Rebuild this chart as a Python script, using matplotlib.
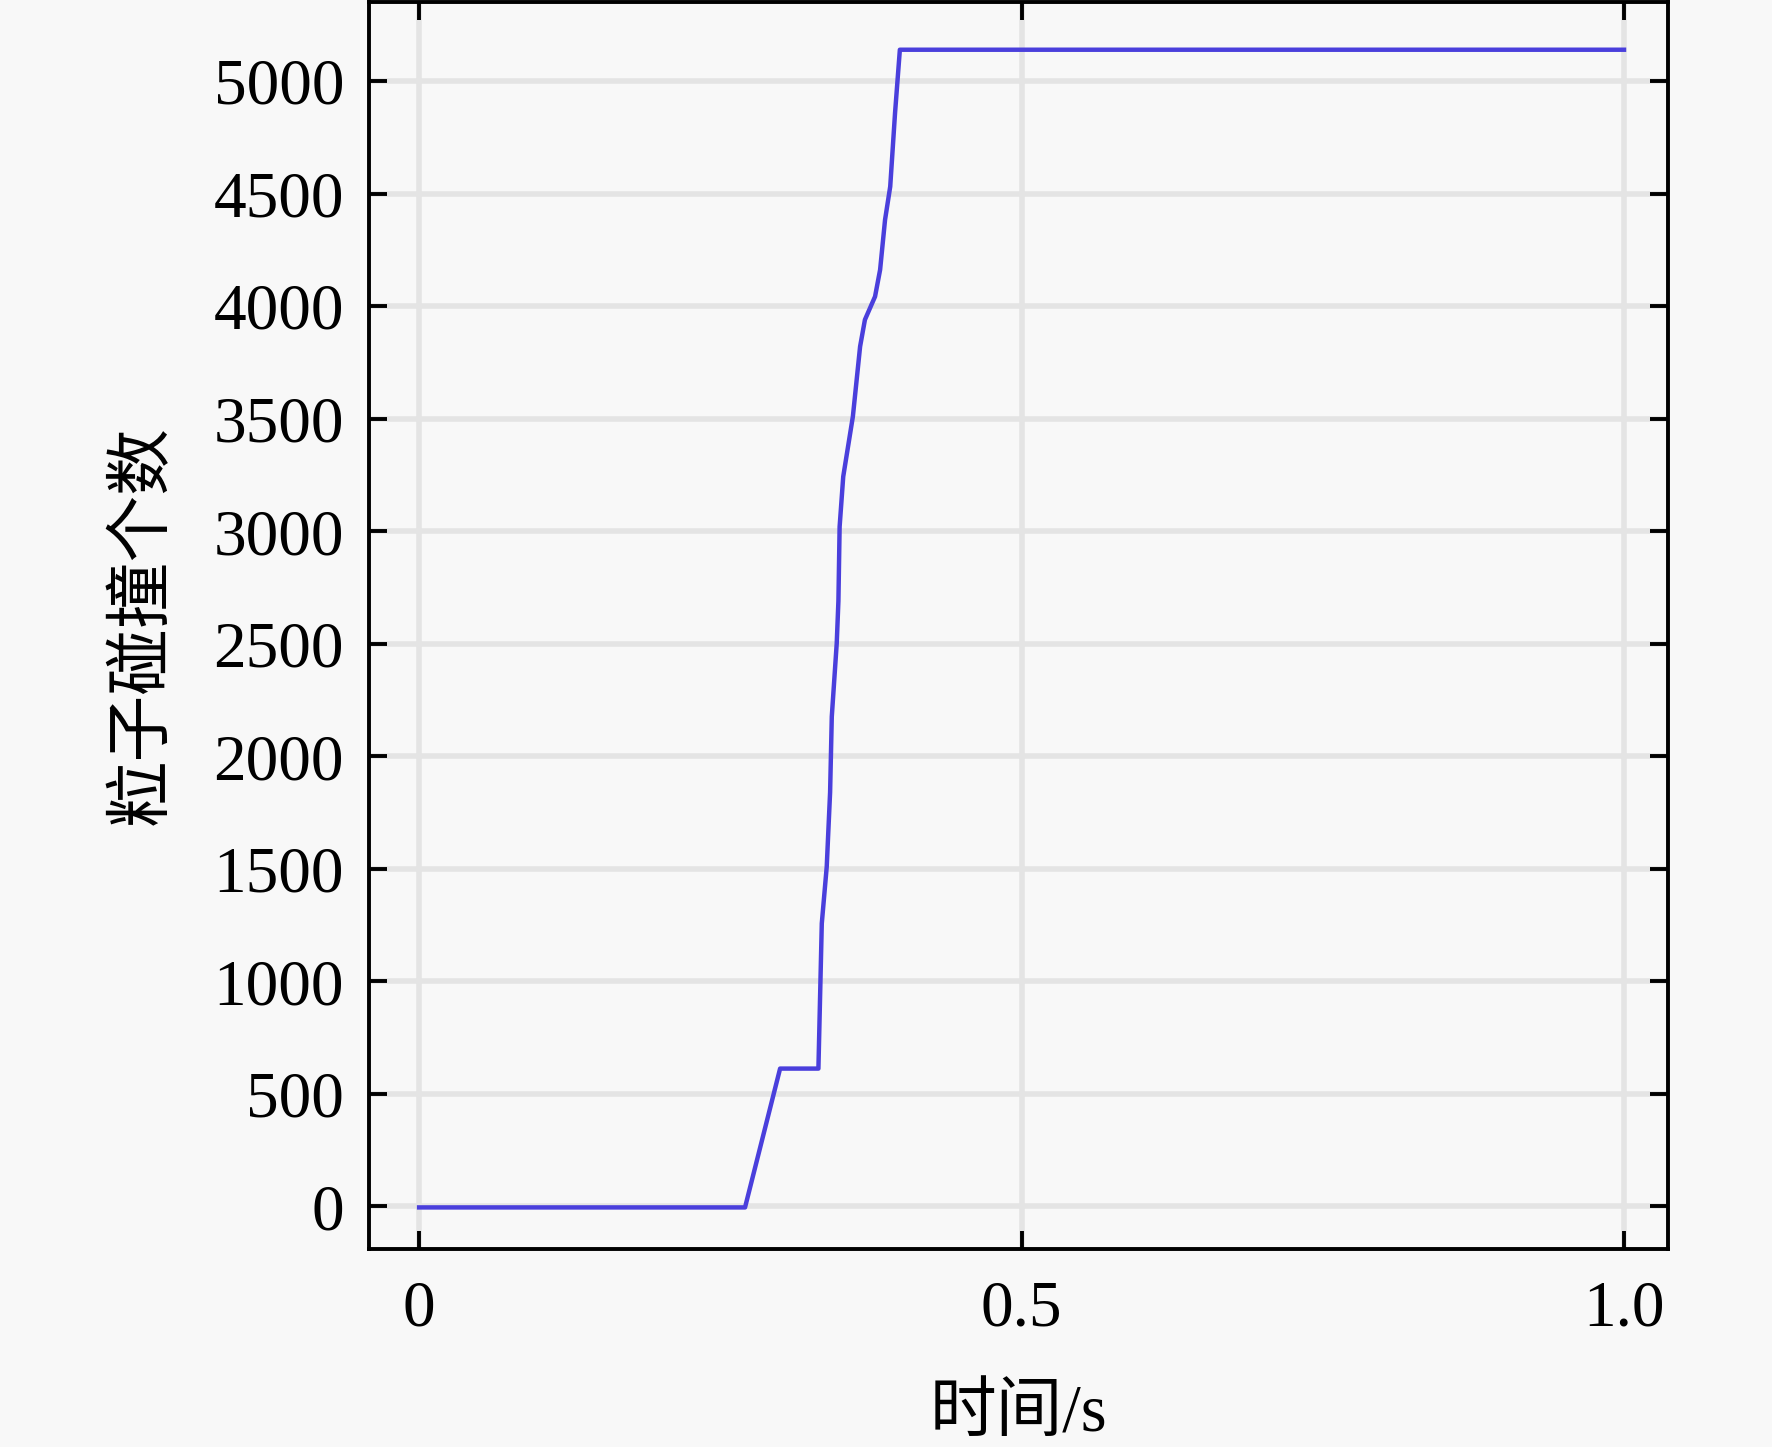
import numpy as np
import matplotlib
matplotlib.use('Agg')
import matplotlib.pyplot as plt

# particle collision count vs time
time_s = [0.0, 0.2705, 0.2996, 0.3314, 0.3342, 0.3383, 0.3411, 0.3425,
          0.3466, 0.3480, 0.3490, 0.3520, 0.3600, 0.3660, 0.3700, 0.3784,
          0.3826, 0.3867, 0.3910, 0.3950, 0.3990, 1.0]
collisions = [-5, -5, 612, 612, 1257, 1509, 1840, 2176,
              2502, 2690, 3020, 3243, 3510, 3821, 3940, 4043,
              4162, 4384, 4532, 4859, 5140, 5140]

xticks = [0, 0.5, 1.0]
xtick_labels = ['0', '0.5', '1.0']
yticks = list(range(0, 5001, 500))

xlabel = '时间/s'
ylabel = '粒子碰撞个数'

plt.rcParams['font.family'] = ['Liberation Serif', 'Noto Sans CJK SC', 'DejaVu Sans']
plt.rcParams['axes.unicode_minus'] = False

bg = '#f8f8f8'
fig = plt.figure(figsize=(8.86, 7.235), dpi=200)
fig.patch.set_facecolor(bg)
ax = fig.add_axes([0.2083, 0.1368, 0.7330, 0.8618])
ax.set_facecolor(bg)

ax.plot(time_s, collisions, color='#4a3fdc', lw=1.6, zorder=3)

ax.set_xlim(-0.0415, 1.0365)
ax.set_ylim(-190, 5352)
ax.set_xticks(xticks)
ax.set_xticklabels(xtick_labels)
ax.set_yticks(yticks)

ax.grid(True, color='#e4e4e4', lw=2.0, zorder=0)
ax.set_axisbelow(True)

for s in ax.spines.values():
    s.set_linewidth(1.4)
    s.set_color('black')

ax.tick_params(direction='in', length=6.5, width=1.4, top=True, right=True,
               labelsize=23.5, colors='black')
ax.tick_params(axis='y', pad=9)
ax.tick_params(axis='x', pad=11)

ax.set_xlabel(xlabel, fontsize=24, labelpad=16)
ax.set_ylabel(ylabel, fontsize=24, labelpad=14)

fig.savefig('out.png', dpi=200, facecolor=bg)
